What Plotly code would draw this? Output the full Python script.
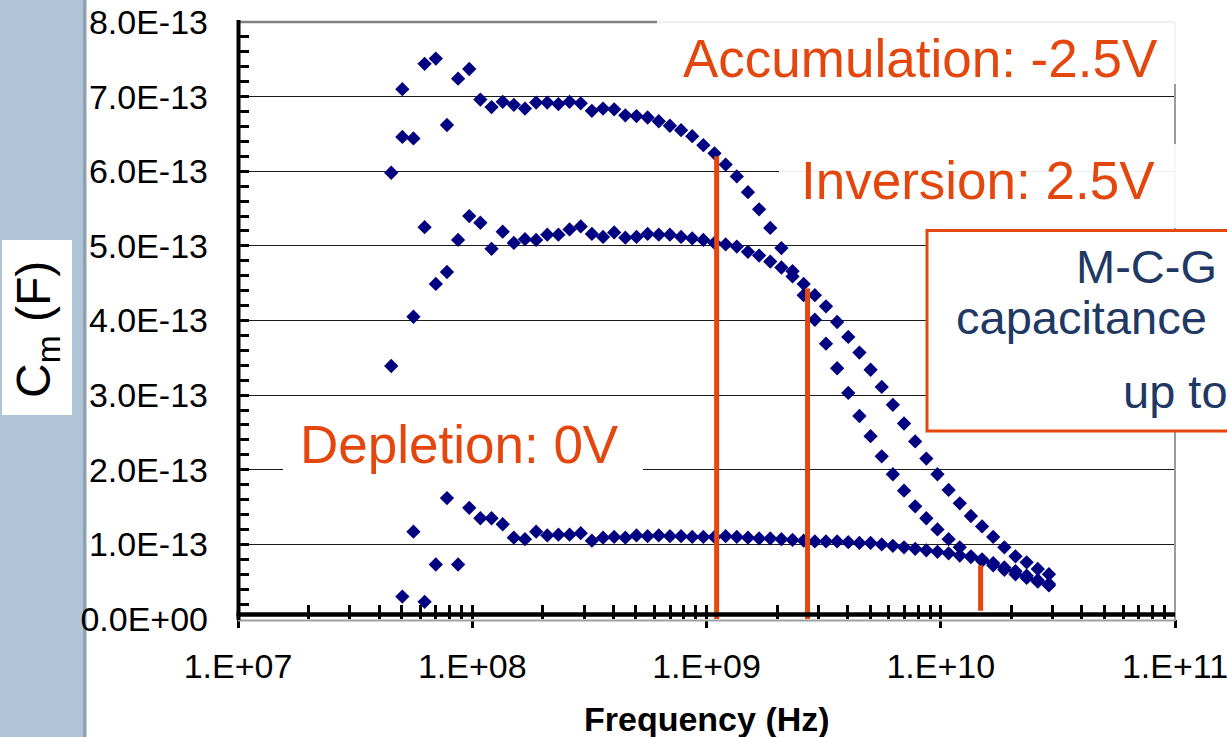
import plotly.graph_objects as go

# Sweep frequencies (MHz) of the measured capacitance
freq_mhz = [45.1, 50.3, 56.1, 62.6, 69.9, 78.0, 87.0, 97.1, 108.3, 120.9,
            134.9, 150.5, 167.9, 187.4, 209.1, 233.3, 260.3, 290.5, 324.1, 361.7,
            403.5, 450.3, 502.4, 560.6, 625.5, 698.0, 778.8, 869.0, 969.6, 1081.9,
            1207.2, 1347.0, 1503.0, 1677.1, 1871.3, 2088.0, 2329.8, 2599.6, 2900.7, 3236.6,
            3611.4, 4029.6, 4496.3, 5017.0, 5598.0, 6246.3, 6969.7, 7776.8, 8677.4, 9682.3,
            10803.6, 12054.7, 13450.7, 15008.4, 16746.5, 18685.9, 20849.8, 23264.3, 25958.5, 28964.7]

# Measured capacitance Cm in fF (1 fF = 1E-15 F)
accumulation_ff = [598, 710, 644, 744, 751, 662, 724, 737, 696, 686,
                   693, 689, 684, 692, 692, 690, 693, 691, 681, 684,
                   683, 675, 674, 672, 667, 661, 655, 647, 635, 624,
                   609, 593, 572, 549, 524, 497, 466, 434, 401, 369,
                   336, 303, 272, 245, 218, 194, 172, 151, 135, 120,
                   107, 96, 84, 78, 72, 66, 60, 55, 50, 45]
inversion_ff = [339, 646, 405, 525, 449, 465, 508, 540, 531, 496,
                519, 504, 509, 508, 515, 515, 522, 526, 516, 512,
                518, 511, 512, 516, 515, 515, 512, 510, 508, 504,
                502, 499, 492, 487, 479, 471, 459, 449, 434, 419,
                398, 378, 357, 334, 311, 287, 262, 238, 215, 194,
                173, 155, 138, 124, 110, 96, 84, 76, 67, 60]
depletion_ff = [None, 30, 117, 23, 73, 162, 73, 149, 135, 135,
                127, 109, 107, 117, 112, 113, 113, 115, 105, 109,
                110, 109, 112, 111, 112, 111, 111, 110, 110, 110,
                111, 110, 109, 108, 108, 107, 106, 105, 104, 104,
                104, 103, 102, 102, 100, 98, 96, 94, 92, 90,
                88, 85, 83, 80, 75, 69, 64, 58, 52, 47]

# Cut-off markers (accumulation, inversion, depletion)
cutoff_freq_hz = [1.105e9, 2.70e9, 1.48e10]
cutoff_top_ff = [620, 443, 72]
cutoff_bottom_ff = [0, 0, 11]

x_tick_vals = [1e7, 1e8, 1e9, 1e10, 1e11]
x_tick_text = ["1.E+07", "1.E+08", "1.E+09", "1.E+10", "1.E+11"]
y_tick_vals = [0, 100, 200, 300, 400, 500, 600, 700, 800]
y_tick_text = ["0.0E+00", "1.0E-13", "2.0E-13", "3.0E-13", "4.0E-13",
               "5.0E-13", "6.0E-13", "7.0E-13", "8.0E-13"]

freq_hz = [f * 1e6 for f in freq_mhz]
minor_x = [m * 10 ** e for e in range(7, 11) for m in range(2, 10)]

FONT = "Liberation Sans, Arial, sans-serif"
ORANGE = "#E4470E"
NAVY = "#000080"
TEXT_BLUE = "#1F3864"

W, H = 1227, 737
L, R, T, B = 238, 1175, 22, 619  # plot area edges in pixels


def px(xp):
    return (xp - L) / (R - L)


def py(yp):
    return (B - yp) / (B - T)


fig = go.Figure()

for name, vals in [("Accumulation", accumulation_ff),
                   ("Inversion", inversion_ff),
                   ("Depletion", depletion_ff)]:
    fig.add_trace(go.Scatter(
        x=freq_hz, y=vals, mode="markers", name=name, showlegend=False,
        marker=dict(symbol="diamond", size=11, color=NAVY, line=dict(width=0)),
    ))

for f, y0, y1 in zip(cutoff_freq_hz, cutoff_bottom_ff, cutoff_top_ff):
    fig.add_trace(go.Scatter(
        x=[f, f], y=[y0, y1], mode="lines", xaxis="x2", yaxis="y",
        line=dict(color=ORANGE, width=5), showlegend=False,
    ))

tick_font = dict(family=FONT, size=34, color="black")

fig.update_layout(
    width=W, height=H,
    margin=dict(l=L, r=W - R, t=T, b=H - B, pad=0, autoexpand=False),
    paper_bgcolor="white", plot_bgcolor="white",
    showlegend=False,
    xaxis=dict(
        type="log", range=[7, 11], tickmode="array",
        tickvals=x_tick_vals, ticktext=x_tick_text, automargin=False,
        ticks="outside", ticklen=8, tickwidth=2.5, tickcolor="black",
        showline=False, showgrid=False, zeroline=False,
        tickfont=tick_font, ticklabelstandoff=9, ticklabeloverflow="allow",
        minor=dict(tickvals=minor_x, ticks="inside", ticklen=14,
                   tickwidth=2.5, tickcolor="black", showgrid=False),
    ),
    xaxis2=dict(
        type="log", range=[7, 11], overlaying="x", anchor="y", side="bottom",
        tickmode="array", tickvals=x_tick_vals, automargin=False,
        ticks="inside", ticklen=14, tickwidth=2.5, tickcolor="black",
        showticklabels=False, showgrid=False, zeroline=False, showline=False,
    ),
    yaxis=dict(
        range=[0, 800], tickmode="array", automargin=False,
        tickvals=y_tick_vals, ticktext=y_tick_text,
        ticks="inside", ticklen=11, tickwidth=3, tickcolor="black",
        showline=False, showgrid=True, gridcolor="#1a1a1a", gridwidth=1,
        zeroline=False, tickfont=tick_font, ticklabelstandoff=29,
        ticklabeloverflow="allow",
        minor=dict(dtick=20, ticks="inside", ticklen=11, tickwidth=3,
                   tickcolor="black", showgrid=False),
    ),
)

shapes = [
    # slide side band
    dict(type="rect", xref="paper", yref="paper", layer="below",
         x0=px(-10), x1=px(83), y0=py(760), y1=py(-10),
         fillcolor="#B0C4D8", line=dict(width=0)),
    dict(type="rect", xref="paper", yref="paper", layer="below",
         x0=px(83), x1=px(86.5), y0=py(760), y1=py(-10),
         fillcolor="#8FA0B0", line=dict(width=0)),
    # y-title background
    dict(type="rect", xref="paper", yref="paper", layer="below",
         x0=px(2), x1=px(72), y0=py(415), y1=py(240),
         fillcolor="white", line=dict(width=0)),
    # plot-area border
    dict(type="line", xref="paper", yref="paper", layer="above",
         x0=px(238), x1=px(1175), y0=py(22), y1=py(22),
         line=dict(color="#808080", width=2.5)),
    dict(type="line", xref="paper", yref="paper", layer="above",
         x0=px(1175), x1=px(1175), y0=py(22), y1=py(621),
         line=dict(color="#9a9a9a", width=2)),
    dict(type="line", xref="paper", yref="paper", layer="above",
         x0=px(238), x1=px(1175), y0=py(620.5), y1=py(620.5),
         line=dict(color="#a0a0a0", width=2)),
    # axis lines
    dict(type="line", xref="paper", yref="paper", layer="above",
         x0=px(236.5), x1=px(1175), y0=py(614.5), y1=py(614.5),
         line=dict(color="black", width=4.5)),
    dict(type="line", xref="paper", yref="paper", layer="above",
         x0=px(238.5), x1=px(238.5), y0=py(620), y1=py(20),
         line=dict(color="black", width=4)),
    # label backgrounds
    dict(type="rect", xref="paper", yref="paper", layer="above",
         x0=px(657), x1=px(1240), y0=py(84), y1=py(-5),
         fillcolor="white", opacity=0.88, line=dict(width=0)),
    dict(type="rect", xref="paper", yref="paper", layer="above",
         x0=px(779), x1=px(1240), y0=py(228), y1=py(144),
         fillcolor="white", opacity=0.92, line=dict(width=0)),
    dict(type="rect", xref="paper", yref="paper", layer="above",
         x0=px(283), x1=px(643), y0=py(490), y1=py(405),
         fillcolor="white", line=dict(width=0)),
    dict(type="rect", xref="paper", yref="paper", layer="above",
         x0=px(927), x1=px(1250), y0=py(431), y1=py(230.5),
         fillcolor="white", line=dict(color=ORANGE, width=3)),
]
fig.update_layout(shapes=shapes)

big = dict(family=FONT, size=53, color=ORANGE)
box_font = dict(family=FONT, size=47, color=TEXT_BLUE)
annotations = [
    dict(text="Accumulation: -2.5V", x=px(920.5), y=py(58.5),
         xanchor="center", yanchor="middle", font=big),
    dict(text="Inversion: 2.5V", x=px(978), y=py(180),
         xanchor="center", yanchor="middle", font=big),
    dict(text="Depletion: 0V", x=px(459), y=py(444),
         xanchor="center", yanchor="middle", font=big),
    dict(text="M-C-G", x=px(1074), y=py(266.5),
         xanchor="left", yanchor="middle", font=box_font),
    dict(text="capacitance", x=px(954), y=py(317),
         xanchor="left", yanchor="middle", font=box_font),
    dict(text="up to", x=px(1121), y=py(391),
         xanchor="left", yanchor="middle", font=box_font),
    dict(text="<b>Frequency (Hz)</b>", x=px(706.5), y=py(719),
         xanchor="center", yanchor="middle",
         font=dict(family=FONT, size=34, color="black")),
    dict(text="C<sub>m</sub> (F)", x=px(37), y=py(330), textangle=-90,
         xanchor="center", yanchor="middle",
         font=dict(family=FONT, size=48, color="black")),
]
for a in annotations:
    a.update(xref="paper", yref="paper", showarrow=False)
fig.update_layout(annotations=annotations)

fig.write_html("out.html")
